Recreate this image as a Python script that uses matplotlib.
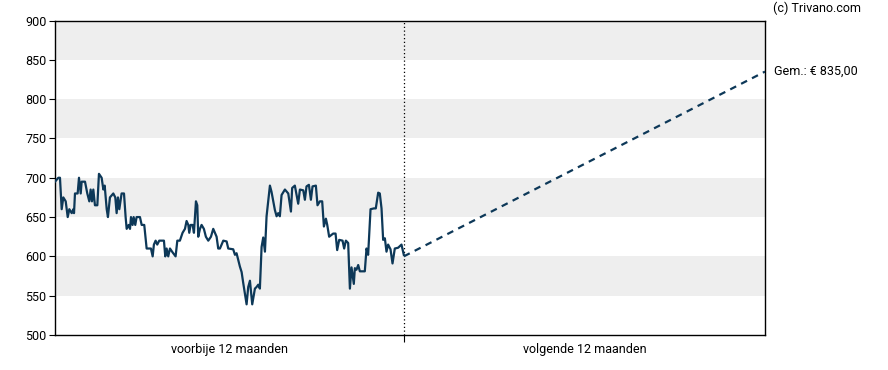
import matplotlib.pyplot as plt

plt.rcParams['font.family'] = ['Roboto', 'DejaVu Sans']

# history: days relative to today, closing price
hist_days = [-365, -361.5, -359.8, -358.0, -356.3, -353.8, -351.7, -350.0, -347.5, -345.8,
             -345.1, -344.1, -341.3, -339.9, -338.1, -337.1, -333.6, -331.2, -329.1, -327.7,
             -326.3, -324.9, -323.2, -320.7, -319.0, -316.2, -314.4, -313.0, -310.9, -309.6,
             -307.5, -304.0, -301.9, -300.5, -299.1, -297.7, -295.3, -292.8, -291.1, -290.0,
             -287.9, -286.5, -285.5, -283.8, -282.7, -281.0, -279.6, -276.1, -274.3, -271.6,
             -269.1, -264.6, -262.8, -261.5, -259.7, -258.0, -255.9, -251.0, -249.6, -248.2,
             -246.5, -244.7, -241.9, -238.8, -237.0, -234.3, -231.5, -229.0, -227.3, -225.5,
             -224.5, -223.1, -221.0, -219.6, -217.5, -216.1, -215.1, -213.3, -211.6, -209.2,
             -207.1, -204.6, -201.8, -199.4, -197.7, -195.9, -194.2, -192.4,
             -188.9, -185.4, -183.7, -178.5, -176.7, -175.0, -173.2, -171.5, -169.7, -168.0,
             -164.5, -162.8, -161.0, -158.6, -155.8, -154.1, -152.3, -150.6, -148.8, -147.1,
             -145.3, -143.6, -140.1, -138.4, -134.9, -133.1, -131.4, -129.7, -127.9, -124.4,
             -120.9, -118.1, -116.8, -114.0, -110.5, -108.7, -105.2, -103.5, -101.8, -99.3,
             -97.2, -95.5, -92.0, -90.3, -87.8, -85.4, -83.6, -81.5, -80.1, -78.1,
             -73.9, -71.4, -69.7, -67.6, -64.1, -62.4, -60.6, -58.2, -56.4, -54.7,
             -52.3, -51.2, -49.5, -47.7, -46.0, -40.8, -39.0, -37.3, -34.8, -31.3,
             -29.3, -26.8, -25.1, -23.3, -21.6, -19.8, -18.1, -16.4, -13.9, -11.8,
             -9.4, -5.9, -2.4, 0]
hist_prices = [695, 700, 700, 660, 675, 670, 650, 660, 655, 660,
               655, 680, 680, 700, 680, 695, 695, 680, 670, 685,
               670, 685, 665, 665, 705, 700, 685, 690, 660, 650,
               675, 680, 675, 655, 675, 660, 680, 680, 650, 635,
               640, 635, 650, 640, 650, 640, 650, 650, 640, 640,
               610, 610, 600, 615, 620, 615, 620, 620, 600, 610,
               600, 610, 605, 600, 620, 620, 630, 635, 645, 640,
               630, 640, 640, 630, 670, 665, 625, 635, 640, 635,
               625, 620, 625, 635, 630, 625, 610, 610,
               620, 619, 610, 609, 602, 604, 595, 587, 580, 566,
               539, 561, 569, 539, 559, 561, 564, 559, 612, 624,
               606, 651, 690, 682, 659, 651, 655, 651, 678, 685,
               680, 657, 687, 690, 667, 685, 684, 672, 689, 691,
               672, 689, 690, 665, 670, 670, 638, 648, 640, 625,
               629, 629, 608, 621, 620, 610, 620, 617, 559, 586,
               565, 585, 583, 589, 581, 581, 610, 602, 660, 661,
               661, 681, 680, 661, 621, 623, 606, 615, 609, 591,
               610, 611, 615, 602]

# forecast: from today to the end of the next period
fc_days = [0, 378]
fc_prices = [600, 835]
fc_label = 'Gem.: € 835,00'

y_ticks = [500, 550, 600, 650, 700, 750, 800, 850, 900]
bands = [(550, 600), (650, 700), (750, 800), (850, 900)]
x_labels = ['voorbije 12 maanden', 'volgende 12 maanden']

line_color = '#0d3858'
fs = 9

fig = plt.figure(figsize=(8.88, 3.70), dpi=100)
ax = fig.add_axes([55 / 888, 35 / 370, 710 / 888, 314.5 / 370])

for lo, hi in bands:
    ax.axhspan(lo, hi, color='#eeeeee', lw=0, zorder=0)

ax.plot(hist_days, hist_prices, color=line_color, lw=1.6, zorder=3)
ax.plot(fc_days, fc_prices, color=line_color, lw=1.6, ls=(0, (3, 2.5)), zorder=3)
ax.axvline(0, color='black', lw=0.9, ls=(0, (1, 2)), zorder=2)

ax.set_xlim(-365, 378)
ax.set_ylim(500, 900)
ax.set_yticks(y_ticks)
ax.tick_params(axis='y', length=4, width=0.8, labelsize=fs, pad=2)

ax.set_xticks([0])
ax.set_xticklabels([''])
ax.tick_params(axis='x', length=5, width=0.8)
ax.set_xticks([-365 / 2, 378 / 2], minor=True)
ax.set_xticklabels(x_labels, minor=True)
ax.tick_params(axis='x', which='minor', length=0, labelsize=fs, pad=6)

for s in ax.spines.values():
    s.set_linewidth(1.0)

ax.text(1.013, 835, fc_label, transform=ax.get_yaxis_transform(),
        ha='left', va='center', fontsize=fs)
fig.text(773 / 888, 1 - 8 / 370, '(c) Trivano.com', ha='left', va='center', fontsize=fs)

fig.savefig('out.png', dpi=100)
